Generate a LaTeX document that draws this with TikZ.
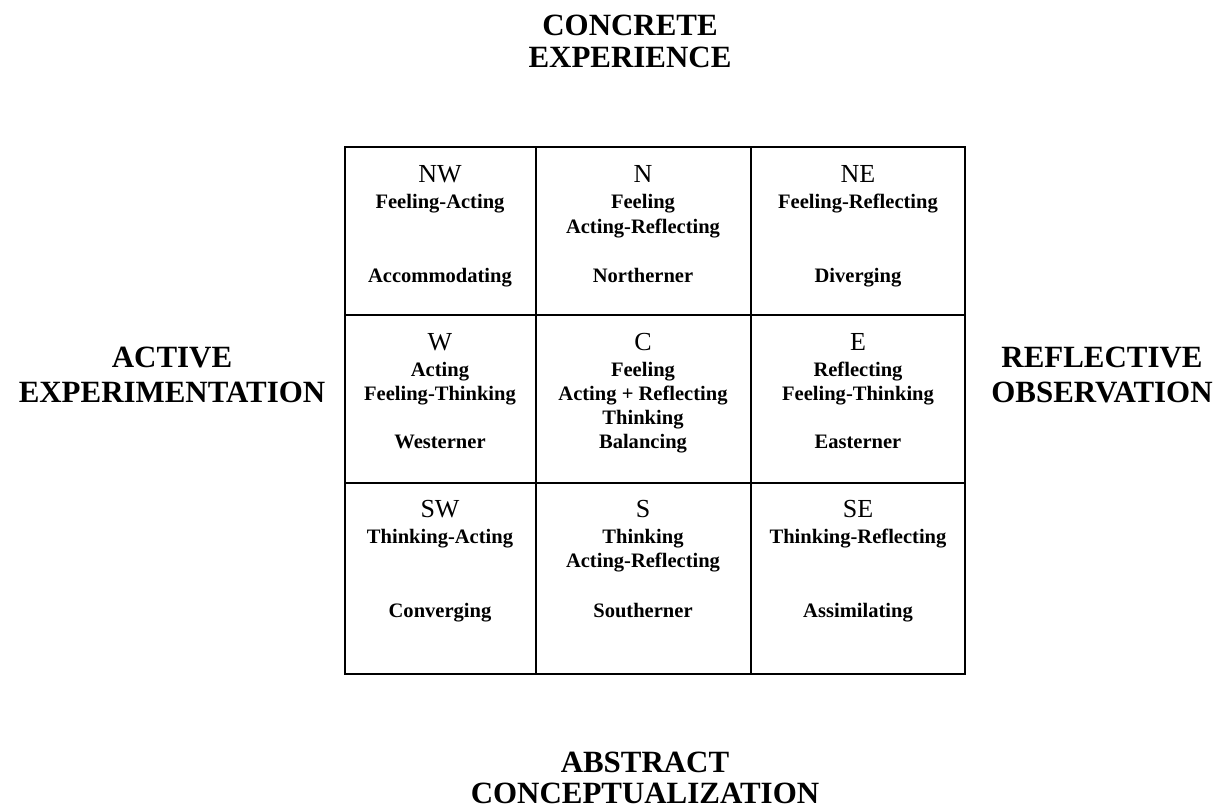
\documentclass[tikz,border=0pt]{standalone}
\usepackage{fontspec}
\setmainfont{Liberation Serif}
\begin{document}
\begin{tikzpicture}[x=0.75pt,y=-0.75pt,
  head/.style={anchor=base,inner sep=0pt,font=\fontsize{23.2pt}{26pt}\selectfont\bfseries},
  ctitle/.style={anchor=base,inner sep=0pt,font=\fontsize{19.5pt}{22pt}\selectfont},
  ctext/.style={anchor=base,inner sep=0pt,font=\fontsize{15.4pt}{18pt}\selectfont\bfseries},
  grid line/.style={line width=2pt}]
\useasboundingbox (0,0) rectangle (1220,810);
% grid
\draw[grid line] (345,147) rectangle (965,674);
\draw[grid line] (536,147) -- (536,674);
\draw[grid line] (751,147) -- (751,674);
\draw[grid line] (345,315) -- (965,315);
\draw[grid line] (345,483) -- (965,483);
% headings
\node[head] (ce1) at (630,35) {CONCRETE};
\node[head] (ce2) at (630,67) {EXPERIENCE};
\node[head] (ae1) at (172,367) {ACTIVE};
\node[head] (ae2) at (172,402) {EXPERIMENTATION};
\node[head] (ro1) at (1102,367) {REFLECTIVE};
\node[head] (ro2) at (1102,402) {OBSERVATION};
\node[head] (ac1) at (645,772) {ABSTRACT};
\node[head] (ac2) at (645,803) {CONCEPTUALIZATION};
% row 1
\node[ctitle] (nw) at (440,182) {NW};
\node[ctext] (nw1) at (440,208) {Feeling-Acting};
\node[ctext] (nw2) at (440,282) {Accommodating};
\node[ctitle] (n) at (643,182) {N};
\node[ctext] (n1) at (643,208) {Feeling};
\node[ctext] (n2) at (643,233) {Acting-Reflecting};
\node[ctext] (n3) at (643,282) {Northerner};
\node[ctitle] (ne) at (858,182) {NE};
\node[ctext] (ne1) at (858,208) {Feeling-Reflecting};
\node[ctext] (ne2) at (858,282) {Diverging};
% row 2
\node[ctitle] (w) at (440,350) {W};
\node[ctext] (w1) at (440,376) {Acting};
\node[ctext] (w2) at (440,400) {Feeling-Thinking};
\node[ctext] (w3) at (440,448) {Westerner};
\node[ctitle] (c) at (643,350) {C};
\node[ctext] (c1) at (643,376) {Feeling};
\node[ctext] (c2) at (643,400) {Acting + Reflecting};
\node[ctext] (c3) at (643,424) {Thinking};
\node[ctext] (c4) at (643,448) {Balancing};
\node[ctitle] (e) at (858,350) {E};
\node[ctext] (e1) at (858,376) {Reflecting};
\node[ctext] (e2) at (858,400) {Feeling-Thinking};
\node[ctext] (e3) at (858,448) {Easterner};
% row 3
\node[ctitle] (sw) at (440,517) {SW};
\node[ctext] (sw1) at (440,543) {Thinking-Acting};
\node[ctext] (sw2) at (440,617) {Converging};
\node[ctitle] (s) at (643,517) {S};
\node[ctext] (s1) at (643,543) {Thinking};
\node[ctext] (s2) at (643,567) {Acting-Reflecting};
\node[ctext] (s3) at (643,617) {Southerner};
\node[ctitle] (se) at (858,517) {SE};
\node[ctext] (se1) at (858,543) {Thinking-Reflecting};
\node[ctext] (se2) at (858,617) {Assimilating};
\end{tikzpicture}
\end{document}
